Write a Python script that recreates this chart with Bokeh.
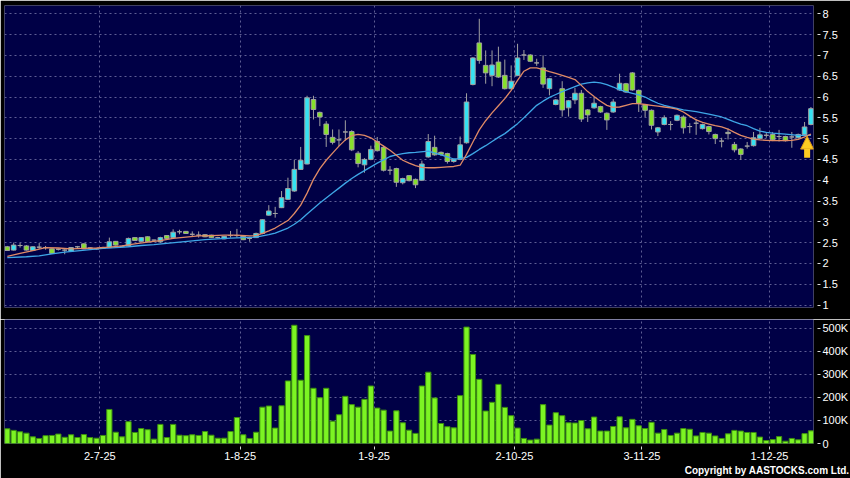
from bokeh.plotting import figure
from bokeh.layouts import column
from bokeh.models import (ColumnDataSource, Range1d, FixedTicker, Grid, Title,
                          Arrow, NormalHead)
from bokeh.embed import file_html
from bokeh.resources import INLINE

# ---------------- data ----------------
date_labels = ["2-7-25", "1-8-25", "1-9-25", "2-10-25", "3-11-25", "1-12-25"]
date_label_index = [15, 37, 58, 80, 100, 120]   # first trading day of each month

opens = [2.40, 2.32, 2.43, 2.42, 2.31, 2.39, 2.38, 2.35, 2.34, 2.32,
         2.29, 2.40, 2.47, 2.37, 2.35, 2.36, 2.38, 2.53, 2.41, 2.42,
         2.62, 2.53, 2.64, 2.56, 2.52, 2.67, 2.62, 2.76, 2.77, 2.70,
         2.68, 2.69, 2.68, 2.62, 2.59, 2.67, 2.67, 2.65, 2.60, 2.62,
         2.72, 3.16, 3.20, 3.34, 3.54, 3.74, 4.26, 4.39, 5.94, 5.63,
         5.35, 5.03, 4.97, 5.16, 5.17, 4.65, 4.37, 4.50, 4.93, 4.79,
         4.24, 4.28, 3.94, 4.11, 4.02, 4.00, 4.56, 4.79, 4.67, 4.64,
         4.45, 4.50, 4.90, 6.30, 7.30, 6.76, 6.52, 6.84, 6.52, 6.20,
         6.52, 7.01, 7.01, 6.82, 6.70, 6.20, 5.82, 6.20, 5.74, 5.93,
         6.09, 5.69, 5.74, 5.77, 5.61, 5.64, 6.17, 6.32, 6.58, 6.16,
         5.81, 5.68, 5.16, 5.34, 5.34, 5.44, 5.52, 5.29, 5.37, 5.24,
         5.29, 5.10, 4.94, 5.15, 4.86, 4.75, 4.82, 4.83, 5.00, 5.08,
         5.10, 5.05, 5.05, 5.04, 5.02, 5.10, 5.34]
highs = [2.42, 2.50, 2.49, 2.44, 2.41, 2.49, 2.42, 2.36, 2.36, 2.34,
         2.39, 2.42, 2.48, 2.39, 2.37, 2.40, 2.62, 2.54, 2.43, 2.62,
         2.63, 2.63, 2.65, 2.57, 2.64, 2.68, 2.82, 2.81, 2.78, 2.77,
         2.77, 2.70, 2.69, 2.64, 2.66, 2.78, 2.83, 2.66, 2.64, 2.74,
         3.06, 3.40, 3.36, 3.74, 4.06, 4.49, 4.80, 6.03, 6.03, 5.65,
         5.42, 5.22, 5.22, 5.44, 5.20, 4.70, 4.53, 4.83, 5.04, 4.83,
         4.34, 4.30, 4.06, 4.12, 4.04, 4.47, 5.11, 5.07, 4.69, 4.66,
         4.52, 5.05, 6.09, 6.96, 7.88, 7.12, 7.12, 7.21, 6.90, 6.76,
         7.28, 7.13, 7.03, 6.92, 7.00, 6.46, 5.95, 6.38, 5.93, 6.22,
         6.17, 5.71, 6.00, 5.79, 5.63, 5.95, 6.56, 6.34, 6.60, 6.18,
         5.83, 5.70, 5.28, 5.56, 5.42, 5.58, 5.56, 5.37, 5.47, 5.36,
         5.31, 5.12, 5.02, 5.24, 4.92, 4.77, 4.92, 5.16, 5.26, 5.15,
         5.16, 5.21, 5.07, 5.16, 5.12, 5.40, 5.76]
lows = [2.30, 2.31, 2.38, 2.31, 2.30, 2.35, 2.33, 2.23, 2.31, 2.22,
        2.28, 2.37, 2.34, 2.35, 2.33, 2.35, 2.37, 2.43, 2.39, 2.41,
        2.54, 2.52, 2.51, 2.54, 2.50, 2.59, 2.61, 2.70, 2.71, 2.66,
        2.62, 2.63, 2.61, 2.60, 2.58, 2.62, 2.62, 2.56, 2.52, 2.61,
        2.70, 3.15, 3.10, 3.33, 3.53, 3.72, 4.25, 4.38, 5.46, 5.30,
        4.80, 4.86, 4.82, 4.95, 4.70, 4.31, 4.18, 4.48, 4.69, 4.21,
        4.13, 3.84, 3.90, 3.97, 3.81, 3.98, 4.54, 4.59, 4.58, 4.40,
        4.42, 4.48, 4.88, 6.28, 6.80, 6.32, 6.26, 6.46, 6.18, 6.18,
        6.50, 6.89, 6.84, 6.75, 6.22, 6.04, 5.80, 5.53, 5.53, 5.83,
        5.40, 5.40, 5.72, 5.62, 5.21, 5.62, 6.15, 6.10, 6.15, 5.64,
        5.52, 5.22, 5.06, 5.32, 5.20, 5.42, 5.12, 5.13, 5.09, 5.22,
        5.10, 4.87, 4.79, 4.98, 4.67, 4.49, 4.76, 4.81, 4.98, 5.02,
        4.94, 4.93, 4.93, 4.78, 5.00, 5.08, 5.32]
closes = [2.31, 2.44, 2.43, 2.32, 2.40, 2.39, 2.38, 2.24, 2.34, 2.32,
          2.38, 2.40, 2.35, 2.37, 2.35, 2.38, 2.52, 2.44, 2.41, 2.60,
          2.55, 2.62, 2.52, 2.56, 2.62, 2.60, 2.75, 2.76, 2.72, 2.70,
          2.68, 2.64, 2.62, 2.62, 2.65, 2.67, 2.67, 2.57, 2.60, 2.72,
          3.05, 3.26, 3.20, 3.58, 3.80, 4.26, 4.48, 5.98, 5.70, 5.52,
          5.10, 4.91, 4.97, 5.16, 4.73, 4.40, 4.50, 4.74, 4.71, 4.24,
          4.24, 3.95, 4.04, 3.99, 3.89, 4.39, 4.93, 4.61, 4.62, 4.45,
          4.50, 4.85, 5.88, 6.94, 6.88, 6.58, 6.77, 6.48, 6.20, 6.38,
          6.94, 7.01, 6.86, 6.82, 6.31, 6.44, 5.93, 5.69, 5.91, 6.09,
          5.47, 5.57, 5.85, 5.64, 5.45, 5.88, 6.33, 6.12, 6.17, 5.85,
          5.68, 5.32, 5.26, 5.50, 5.34, 5.56, 5.26, 5.29, 5.37, 5.34,
          5.17, 5.00, 4.94, 5.12, 4.73, 4.62, 4.82, 5.02, 5.09, 5.08,
          4.97, 5.05, 4.95, 5.04, 5.10, 5.28, 5.72]
volumes_k = [64, 57, 51, 45, 29, 22, 34, 35, 41, 27,
             38, 26, 39, 26, 23, 35, 148, 49, 29, 95,
             48, 65, 60, 19, 83, 26, 83, 36, 34, 38,
             35, 52, 36, 23, 23, 52, 113, 38, 22, 49,
             158, 163, 67, 164, 272, 514, 275, 469, 240, 199,
             240, 97, 125, 205, 169, 158, 192, 250, 154, 145,
             54, 142, 90, 58, 44, 250, 310, 198, 87, 73,
             68, 208, 506, 387, 279, 141, 179, 257, 157, 121,
             67, 22, 15, 19, 169, 80, 134, 121, 90, 89,
             100, 64, 115, 54, 54, 74, 116, 68, 105, 77,
             65, 92, 45, 61, 35, 45, 65, 62, 33, 48,
             45, 33, 22, 42, 57, 54, 48, 48, 28, 13,
             17, 30, 10, 22, 16, 43, 55]

# 10-day moving average (orange)
ma10_index = [0, 2, 4, 6, 8, 10, 12, 14, 16, 18, 20, 22, 24, 26, 28, 30, 32, 34, 36,
              38, 39, 40, 41, 42, 43, 44, 45, 46, 47, 48, 49, 50, 51, 52, 53, 54,
              55, 56, 57, 58, 59, 60, 61, 62, 63, 64, 65, 66, 67, 68, 69, 70, 71,
              72, 73, 74, 75, 76, 77, 78, 79, 80, 81, 82, 83, 84, 85, 86, 87, 88,
              89, 90, 91, 92, 93, 94, 95, 96, 97, 98, 99, 100, 101, 102, 103, 104,
              105, 106, 107, 108, 109, 110, 111, 112, 113, 114, 115, 116, 117, 118,
              119, 120, 121, 122, 123, 124, 125, 126]
ma10_value = [2.17, 2.24, 2.31, 2.38, 2.37, 2.35, 2.36, 2.37, 2.39, 2.42, 2.47, 2.51,
              2.55, 2.60, 2.63, 2.66, 2.67, 2.68, 2.68, 2.66, 2.67, 2.72, 2.78, 2.85,
              2.94, 3.03, 3.20, 3.40, 3.69, 4.02, 4.28, 4.48, 4.65, 4.82, 4.97, 5.07,
              5.10, 5.08, 5.02, 4.92, 4.82, 4.72, 4.60, 4.48, 4.41, 4.35, 4.31, 4.30,
              4.30, 4.31, 4.32, 4.33, 4.36, 4.62, 4.92, 5.21, 5.43, 5.62, 5.79, 5.96,
              6.16, 6.40, 6.62, 6.70, 6.70, 6.66, 6.61, 6.57, 6.52, 6.47, 6.42, 6.28,
              6.13, 6.01, 5.90, 5.80, 5.75, 5.76, 5.80, 5.84, 5.84, 5.82, 5.80, 5.78,
              5.76, 5.74, 5.71, 5.64, 5.54, 5.45, 5.39, 5.35, 5.31, 5.28, 5.23, 5.15,
              5.08, 5.03, 4.99, 4.97, 4.96, 4.95, 4.95, 4.95, 4.96, 4.98, 5.04, 5.11]

# 20-day moving average (blue)
ma20_index = [0, 3, 5, 7, 9, 11, 13, 15, 17, 19, 21, 23, 25, 27, 29, 31, 33, 35, 37,
              39, 40, 41, 42, 43, 44, 45, 46, 47, 48, 49, 50, 51, 52, 53, 54, 55,
              56, 57, 58, 59, 60, 61, 62, 63, 64, 66, 68, 69, 70, 71, 72, 73, 74,
              75, 76, 77, 78, 79, 80, 81, 82, 83, 84, 85, 86, 87, 88, 89, 90, 91,
              92, 93, 94, 95, 96, 97, 98, 99, 100, 101, 102, 103, 104, 106, 108,
              110, 112, 113, 114, 115, 116, 117, 118, 119, 120, 122, 124, 126]
ma20_value = [2.14, 2.16, 2.18, 2.23, 2.27, 2.30, 2.33, 2.36, 2.38, 2.40, 2.43, 2.45,
              2.48, 2.51, 2.54, 2.57, 2.59, 2.61, 2.62, 2.63, 2.66, 2.69, 2.73, 2.79,
              2.85, 2.94, 3.05, 3.19, 3.32, 3.45, 3.57, 3.69, 3.81, 3.93, 4.04, 4.14,
              4.23, 4.32, 4.41, 4.49, 4.57, 4.61, 4.64, 4.66, 4.67, 4.70, 4.61, 4.56,
              4.51, 4.52, 4.55, 4.64, 4.74, 4.83, 4.93, 5.03, 5.12, 5.24, 5.36, 5.50,
              5.65, 5.80, 5.90, 5.99, 6.06, 6.13, 6.19, 6.25, 6.31, 6.34, 6.36, 6.34,
              6.30, 6.24, 6.17, 6.13, 6.09, 6.05, 6.00, 5.92, 5.85, 5.80, 5.76, 5.69,
              5.65, 5.59, 5.52, 5.46, 5.40, 5.35, 5.31, 5.24, 5.18, 5.15, 5.13, 5.11,
              5.08, 5.08]

price_ticks = [1, 1.5, 2, 2.5, 3, 3.5, 4, 4.5, 5, 5.5, 6, 6.5, 7, 7.5, 8]
price_tick_labels = ["1", "1.5", "2", "2.5", "3", "3.5", "4", "4.5", "5", "5.5",
                     "6", "6.5", "7", "7.5", "8"]
volume_ticks = [0, 100, 200, 300, 400, 500]
volume_tick_labels = ["0", "100K", "200K", "300K", "400K", "500K"]

# yellow signal arrow under the last candle
signal_index = [125.4]
signal_base = [4.54]
signal_tip = [5.06]

# ---------------- styling ----------------
NAVY = "#000046"
GRID = "#5E5E94"
UP = "#35E2F2"
DOWN = "#86E02C"
FLAT = "#A8A8A8"
WICK = "#A0A0A0"
VOL_FILL = "#7CF423"
VOL_EDGE = "#3D8F10"
MA10_COLOR = "#E08A66"
MA20_COLOR = "#3EA6E6"
FONT = "Liberation Sans"

FRAME_W = 809
x_range = Range1d(-0.44, 126.4)
month_ticks = [i - 0.5 for i in date_label_index]

n = len(closes)
idx = list(range(n))
body_top = [max(o, c) for o, c in zip(opens, closes)]
body_bottom = [min(o, c) for o, c in zip(opens, closes)]
colors = [UP if c > o else (DOWN if c < o else FLAT) for o, c in zip(opens, closes)]
candles = ColumnDataSource(dict(x=idx, high=highs, low=lows, top=body_top,
                                bottom=body_bottom, color=colors))


def style_axis(ax, tick_in, tick_out, standoff):
    ax.axis_line_color = None
    ax.major_tick_line_color = "#D8D8D8"
    ax.minor_tick_line_color = None
    ax.major_tick_in = tick_in
    ax.major_tick_out = tick_out
    ax.major_label_text_color = "white"
    ax.major_label_text_font = FONT
    ax.major_label_text_font_size = "11px"
    ax.major_label_standoff = standoff


def add_grids(p, yticks):
    p.xgrid.visible = False
    p.ygrid.visible = False
    p.add_layout(Grid(dimension=0, ticker=FixedTicker(ticks=month_ticks),
                      grid_line_color=GRID, grid_line_dash="2 3", grid_line_width=1))
    p.add_layout(Grid(dimension=1, ticker=FixedTicker(ticks=yticks),
                      grid_line_color=GRID, grid_line_dash="2 3", grid_line_width=1))


# ---------------- price panel ----------------
p1 = figure(frame_width=FRAME_W, frame_height=302, x_range=x_range,
            y_range=Range1d(0.94, 8.2), output_backend="svg", toolbar_location=None,
            x_axis_location=None, y_axis_location="right",
            min_border_left=4, min_border_right=37, min_border_top=5, min_border_bottom=12,
            background_fill_color=NAVY, border_fill_color="black", outline_line_color=None)
add_grids(p1, price_ticks)
style_axis(p1.yaxis[0], -4, 7, 2)
p1.yaxis[0].ticker = FixedTicker(ticks=price_ticks)
p1.yaxis[0].major_label_overrides = dict(zip(price_ticks, price_tick_labels))

p1.segment(x0="x", y0="low", x1="x", y1="high", source=candles,
           line_color=WICK, line_width=1)
p1.vbar(x="x", width=0.72, top="top", bottom="bottom", source=candles,
        fill_color="color", line_color=WICK, line_width=1)
p1.line(ma20_index, ma20_value, line_color=MA20_COLOR, line_width=1.3)
p1.line(ma10_index, ma10_value, line_color=MA10_COLOR, line_width=1.3)

sig = ColumnDataSource(dict(x=signal_index, y0=signal_base, y1=signal_tip))
p1.add_layout(Arrow(end=NormalHead(size=13, fill_color="#FFCC22", line_color="#D9961A",
                                   line_width=1),
                    x_start="x", y_start="y0", x_end="x", y_end="y1", source=sig,
                    line_color="#FFCC22", line_width=6))

# ---------------- volume panel ----------------
p2 = figure(frame_width=FRAME_W, frame_height=124, x_range=x_range,
            y_range=Range1d(0, 539), output_backend="svg", toolbar_location=None,
            y_axis_location="right",
            min_border_left=4, min_border_right=37, min_border_top=0, min_border_bottom=35,
            background_fill_color=NAVY, border_fill_color="black", outline_line_color=None)
add_grids(p2, volume_ticks)
style_axis(p2.yaxis[0], -4, 7, 2)
p2.yaxis[0].ticker = FixedTicker(ticks=volume_ticks)
p2.yaxis[0].major_label_overrides = dict(zip(volume_ticks, volume_tick_labels))
style_axis(p2.xaxis[0], -3, 6, 2)
p2.xaxis[0].ticker = FixedTicker(ticks=month_ticks)
p2.xaxis[0].major_label_overrides = dict(zip(month_ticks, date_labels))

p2.vbar(x=idx, top=volumes_k, width=0.82, bottom=0,
        fill_color=VOL_FILL, line_color=VOL_EDGE, line_width=1)

p2.add_layout(Title(text="Copyright by AASTOCKS.com Ltd.", align="right",
                    text_color="white", text_font=FONT, text_font_size="10px",
                    text_font_style="bold", standoff=0, offset=-36), "below")

layout = column(p1, p2, spacing=0)

open("out.html", "w").write(file_html(layout, INLINE))
